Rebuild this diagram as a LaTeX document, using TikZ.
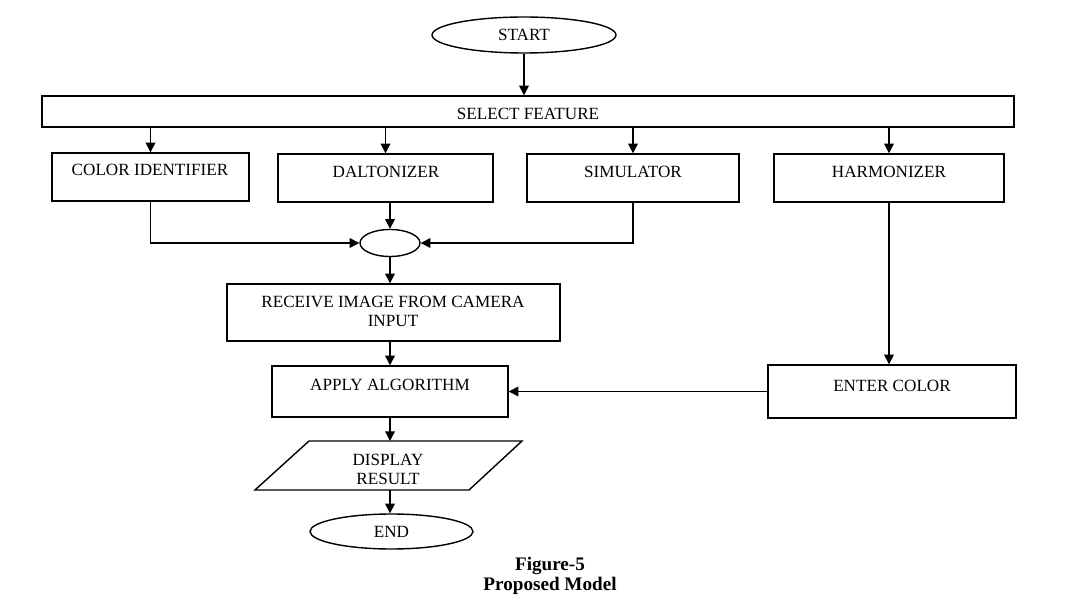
\documentclass[tikz,border=0pt]{standalone}
\usepackage{fontspec}
\setmainfont{Liberation Serif}
\usetikzlibrary{arrows.meta,shapes.geometric}

\tikzset{
  box/.style={draw, line width=0.8pt, rectangle, inner sep=0pt},
  oval/.style={draw, line width=0.8pt, ellipse, inner sep=0pt},
  boxtext/.style={anchor=base, inner sep=0pt, font=\fontsize{9.75pt}{11pt}\selectfont},
  flow/.style={line width=0.8pt, -{Triangle[length=5.5pt,width=5.5pt]}},
  wire/.style={line width=0.8pt}
}

\begin{document}
\begin{tikzpicture}[x=0.02cm, y=-0.02cm]
\useasboundingbox (0,0) rectangle (1081,604);

% Shapes of the flow chart
\node[oval, minimum width=3.68cm, minimum height=0.72cm, font=\fontsize{9.75pt}{11pt}\selectfont] (start) at (524,35) {START};
\node[box, minimum width=19.44cm, minimum height=0.62cm] (select) at (528,111.5) {};
\node[box, minimum width=3.94cm, minimum height=0.96cm] (colid) at (150.5,177) {};
\node[box, minimum width=4.3cm, minimum height=0.96cm] (dalt) at (385.5,178) {};
\node[box, minimum width=4.24cm, minimum height=0.96cm] (simu) at (633,178) {};
\node[box, minimum width=4.6cm, minimum height=0.96cm] (harm) at (889,178) {};
\node[oval, minimum width=1.2cm, minimum height=0.54cm] (join) at (390,243) {};
\node[box, minimum width=6.66cm, minimum height=1.14cm] (recv) at (393.5,312.5) {};
\node[box, minimum width=4.72cm, minimum height=1.02cm] (apply) at (390,391.5) {};
\node[box, minimum width=4.96cm, minimum height=1.06cm] (enter) at (892,391.5) {};
% display block as a parallelogram
\draw[wire] (255,490) -- (309,441) -- (522,441) -- (469,490) -- cycle;
\coordinate (disptop) at (390,441);
\coordinate (dispbot) at (388,490);
\node[oval, minimum width=3.26cm, minimum height=0.7cm, font=\fontsize{9.75pt}{11pt}\selectfont] (endn) at (391.5,531.5) {END};

% Texts in the boxes
\node[boxtext] (selecttxt) at (528,120) {SELECT FEATURE};
\node[boxtext] (colidtxt) at (150,176) {COLOR IDENTIFIER};
\node[boxtext] (dalttxt) at (386,178) {DALTONIZER};
\node[boxtext] (simutxt) at (633,178) {SIMULATOR};
\node[boxtext] (harmtxt) at (889,178) {HARMONIZER};
\node[boxtext] (recvtxt) at (393,308) {RECEIVE IMAGE FROM CAMERA};
\node[boxtext] (recvtxtb) at (393,327) {INPUT};
\node[boxtext] (applytxt) at (390,390) {APPLY ALGORITHM};
\node[boxtext] (entertxt) at (892,391) {ENTER COLOR};
\node[boxtext] (disptxt) at (388,465) {DISPLAY};
\node[boxtext] (disptxtb) at (388,484) {RESULT};

% Connectors
\draw[flow] (start.south) -- (start.south |- select.north);
\draw[flow] (colid.north |- select.south) -- (colid.north);
\draw[flow] (dalt.north |- select.south) -- (dalt.north);
\draw[flow] (simu.north |- select.south) -- (simu.north);
\draw[flow] (harm.north |- select.south) -- (harm.north);
\draw[flow] (colid.south) |- (join.west);
\draw[flow] (join.north |- dalt.south) -- (join.north);
\draw[flow] (simu.south) |- (join.east);
\draw[flow] (join.south) -- (join.south |- recv.north);
\draw[flow] (apply.north |- recv.south) -- (apply.north);
\draw[flow] (harm.south) -- (harm.south |- enter.north);
\draw[flow] (enter.west) -- (apply.east);
\draw[flow] (apply.south) -- (disptop);
\draw[flow] (disptop |- dispbot) -- (disptop |- endn.north);

% Caption
\node[anchor=base, inner sep=0pt, font=\fontsize{10.9pt}{13pt}\selectfont\bfseries] (figno) at (550,570) {Figure-5};
\node[anchor=base, inner sep=0pt, font=\fontsize{10.9pt}{13pt}\selectfont\bfseries] (figname) at (550,590) {Proposed Model};
\end{tikzpicture}
\end{document}
